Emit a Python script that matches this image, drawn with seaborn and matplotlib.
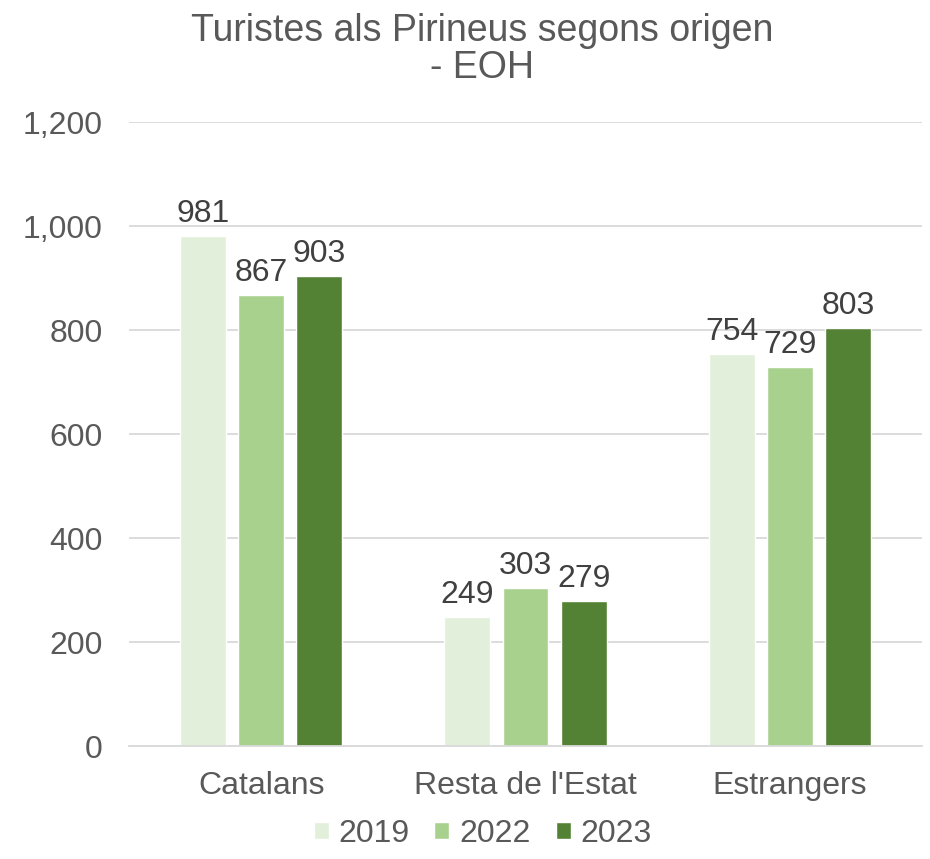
import pandas as pd
import matplotlib.pyplot as plt
import seaborn as sns
from matplotlib.patches import Patch

categories = ["Catalans", "Resta de l'Estat", "Estrangers"]
years = ["2019", "2022", "2023"]
v2019 = [981, 249, 754]
v2022 = [867, 303, 729]
v2023 = [903, 279, 803]

colors = ["#E2EFDA", "#A9D18E", "#548235"]
text_col = "#595959"

df = pd.DataFrame({
    "origen": categories * 3,
    "any": [y for y in years for _ in categories],
    "turistes": v2019 + v2022 + v2023,
})

sns.set_style("white")
plt.rcParams["font.family"] = ["Liberation Sans", "DejaVu Sans"]

fig = plt.figure(figsize=(9.3, 8.59), dpi=100)
ax = fig.add_axes([129 / 930, 113 / 859, 793 / 930, 624 / 859])

sns.barplot(data=df, x="origen", y="turistes", hue="any", palette=colors,
            width=0.66, gap=0.21, ax=ax, legend=False, saturation=1)

ax.set_ylim(0, 1200)
ax.set_xlim(-0.5, 2.5)
ax.set_yticks(range(0, 1201, 200))
ax.yaxis.set_major_formatter(plt.FuncFormatter(lambda v, p: f"{int(v):,}"))
ax.grid(axis="y", color="#D9D9D9", linewidth=1.3)
ax.set_axisbelow(True)
for s in ["top", "right", "left"]:
    ax.spines[s].set_visible(False)
ax.spines["bottom"].set_color("#D9D9D9")
ax.spines["bottom"].set_linewidth(1.3)
ax.tick_params(axis="both", length=0, labelsize=23, labelcolor=text_col)
ax.tick_params(axis="x", pad=18)
ax.tick_params(axis="y", pad=19)
ax.set_xlabel("")
ax.set_ylabel("")

for c in ax.containers:
    ax.bar_label(c, fontsize=23, color="#404040", padding=5)

fig.suptitle("Turistes als Pirineus segons origen\n- EOH", x=0.518, y=0.985,
             fontsize=27, color=text_col, linespacing=1.05)

handles = [Patch(facecolor=col, label=y) for col, y in zip(colors, years)]
fig.legend(handles=handles, loc="center", bbox_to_anchor=(0.519, 25 / 859),
           ncol=3, frameon=False, fontsize=23, labelcolor=text_col,
           handlelength=0.47, handleheight=0.47, handletextpad=0.31,
           columnspacing=0.78)

fig.savefig("out.png", dpi=100)
